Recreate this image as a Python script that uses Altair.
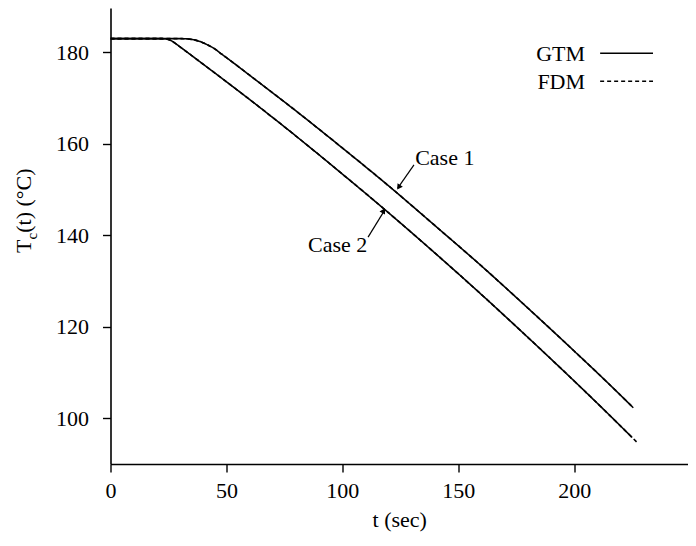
import altair as alt
import pandas as pd

# ---- data ----
case1_t = [0, 30, 33, 36, 39, 42, 45, 48, 52, 60, 80, 100, 120, 140, 160, 180, 200, 215, 225.5]
case1_T = [183.0, 183.0, 182.95, 182.75, 182.3, 181.6, 180.75, 179.6, 178.1, 175.0, 167.2, 159.1, 150.8, 142.1, 133.3, 124.1, 114.7, 107.5, 102.3]
case2_t = [0, 22, 24, 26, 28, 30, 32, 40, 60, 80, 100, 120, 140, 160, 180, 200, 215, 225]
case2_T = [183.0, 183.0, 182.95, 182.6, 181.95, 181.2, 180.45, 177.4, 169.7, 161.7, 153.4, 144.9, 136.1, 127.05, 117.7, 108.15, 100.8, 95.8]
fdm1_t = case1_t
fdm1_T = case1_T
fdm2_t = case2_t + [227.5]
fdm2_T = case2_T + [94.55]

x_ticks = [0, 50, 100, 150, 200]
y_ticks = [100, 120, 140, 160, 180]
x_domain = [0, 249.1]
y_domain = [90, 189.7]

FONT = "Liberation Serif"
FS = 22

rows = []
for case, method, ts, Ts in [
    ("Case 1", "GTM", case1_t, case1_T),
    ("Case 2", "GTM", case2_t, case2_T),
    ("Case 1", "FDM", fdm1_t, fdm1_T),
    ("Case 2", "FDM", fdm2_t, fdm2_T),
]:
    for t, T in zip(ts, Ts):
        rows.append({"t": t, "T": T, "case": case, "method": method, "series": case + method})
df = pd.DataFrame(rows)

xs = alt.Scale(domain=x_domain, nice=False, zero=False)
ys = alt.Scale(domain=y_domain, nice=False, zero=False)
dash_scale = alt.Scale(domain=["GTM", "FDM"], range=[[1, 0], [4, 3]])

lines = alt.Chart(df).mark_line(color="black", strokeWidth=1.6, interpolate="monotone", clip=True).encode(
    x=alt.X("t:Q", scale=xs, axis=alt.Axis(values=x_ticks, title="t (sec)", titlePadding=8, labelFlush=False)),
    y=alt.Y("T:Q", scale=ys, axis=alt.Axis(values=y_ticks, title=None)),
    detail="series:N",
    strokeDash=alt.StrokeDash("method:N", scale=dash_scale, legend=None),
    order="t:Q",
)

# annotations
labels_df = pd.DataFrame({"t": [131.4, 85.2], "T": [156.9, 137.9], "text": ["Case 1", "Case 2"]})
labels = alt.Chart(labels_df).mark_text(font=FONT, fontSize=FS, align="left", baseline="middle", color="black").encode(
    x=alt.X("t:Q", scale=xs), y=alt.Y("T:Q", scale=ys), text="text:N"
)

arrows_df = pd.DataFrame({"t": [130.9, 111.1], "T": [155.4, 139.6], "t2": [123.9, 118.0], "T2": [150.3, 145.3]})
arrow_lines = alt.Chart(arrows_df).mark_rule(color="black", strokeWidth=1.2).encode(
    x=alt.X("t:Q", scale=xs), y=alt.Y("T:Q", scale=ys), x2="t2:Q", y2="T2:Q"
)
heads_df = pd.DataFrame({"t": [124.3, 117.8], "T": [150.5, 145.4], "ang": [214, 30]})
heads = alt.Chart(heads_df).mark_point(shape="triangle-up", filled=True, color="black", size=40, opacity=1).encode(
    x=alt.X("t:Q", scale=xs), y=alt.Y("T:Q", scale=ys), angle=alt.Angle("ang:Q", scale=None)
)

# legend
leg_text_df = pd.DataFrame({"t": [204.7, 204.7], "T": [179.6, 173.5], "text": ["GTM", "FDM"]})
leg_text = alt.Chart(leg_text_df).mark_text(font=FONT, fontSize=FS, align="right", baseline="middle", color="black").encode(
    x=alt.X("t:Q", scale=xs), y=alt.Y("T:Q", scale=ys), text="text:N"
)
leg_lines_df = pd.DataFrame({"t": [211.2, 211.2], "t2": [234.0, 234.0], "T": [179.8, 173.7], "method": ["GTM", "FDM"]})
leg_lines = alt.Chart(leg_lines_df).mark_rule(color="black", strokeWidth=1.4).encode(
    x=alt.X("t:Q", scale=xs), x2="t2:Q", y=alt.Y("T:Q", scale=ys),
    strokeDash=alt.StrokeDash("method:N", scale=dash_scale, legend=None),
)

# y-axis title with subscript
one = pd.DataFrame({"a": [0]})
yt_T = alt.Chart(one).mark_text(text="T", font=FONT, fontSize=FS, angle=270, align="left", baseline="alphabetic", color="black").encode(
    x=alt.value(-79.5), y=alt.value(245)
)
yt_c = alt.Chart(one).mark_text(text="c", font=FONT, fontSize=15, angle=270, align="left", baseline="alphabetic", color="black").encode(
    x=alt.value(-73.5), y=alt.value(231.5)
)
yt_rest = alt.Chart(one).mark_text(text="(t) (°C)", font=FONT, fontSize=FS, angle=270, align="left", baseline="alphabetic", color="black").encode(
    x=alt.value(-79.5), y=alt.value(224.8)
)

chart = alt.layer(lines, arrow_lines, heads, labels, leg_lines, leg_text, yt_T, yt_c, yt_rest).properties(
    width=577.5, height=456,
    autosize=alt.AutoSizeParams(type="none"),
    padding={"left": 102.5, "top": 0, "right": 0, "bottom": 74},
).configure_view(stroke=None).configure_axis(
    grid=False,
    domainColor="black", domainWidth=1.6,
    tickColor="black", tickWidth=1.4, tickSize=8,
    labelFont=FONT, labelFontSize=FS, labelColor="black",
    titleFont=FONT, titleFontSize=FS, titleFontWeight="normal", titleColor="black",
).configure_axisX(labelPadding=8).configure_axisY(labelPadding=14)

chart.save("out.html", embed_options={"renderer": "svg", "actions": False})
